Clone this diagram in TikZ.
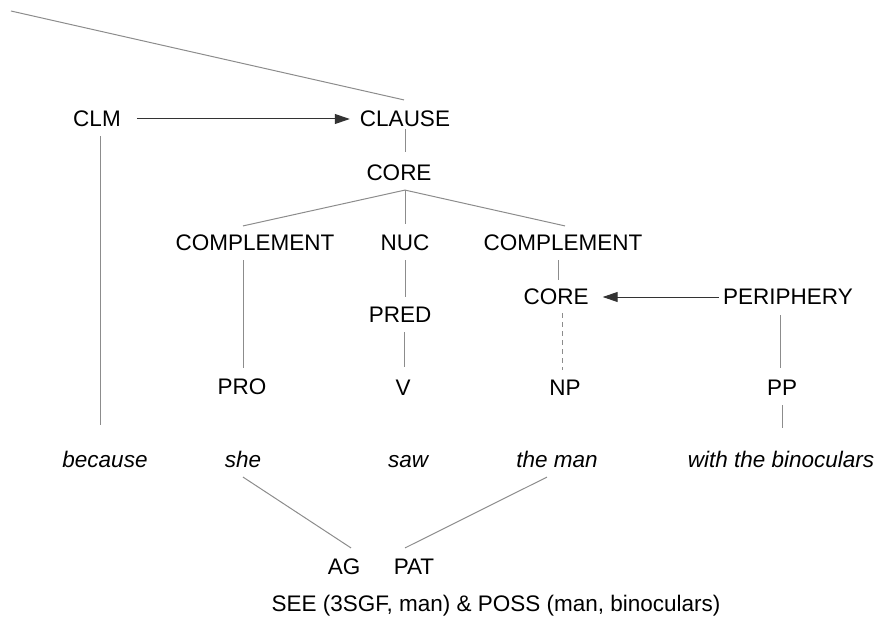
\documentclass[tikz,border=0pt]{standalone}
\usepackage{fontspec}
\setmainfont{Liberation Sans}
\usetikzlibrary{arrows.meta,calc}
\begin{document}
\begin{tikzpicture}[x=1pt,y=-1pt,
  lab/.style={font=\fontsize{22.5}{25}\selectfont, inner sep=0pt, text height=15.75pt, text depth=0pt},
  itl/.style={font=\fontsize{22.5}{25}\selectfont\itshape, inner sep=0pt, text height=15.75pt, text depth=0pt},
  ln/.style={draw=black!45, line width=1pt},
  dln/.style={draw=black!45, line width=1pt, dash pattern=on 5pt off 4pt},
  arr/.style={draw=black!80, line width=1pt, -{Triangle[length=15pt,width=10pt]}}]
\useasboundingbox (0,0) rectangle (877,617);
\node[lab] (clm) at (97,119) {CLM};
\node[lab] (clause) at (405,119) {CLAUSE};
\node[lab] (core1) at (399,173) {CORE};
\node[lab] (compL) at (255,243) {COMPLEMENT};
\node[lab] (nuc) at (405,243) {NUC};
\node[lab] (compR) at (563,243) {COMPLEMENT};
\node[lab] (core2) at (556,297) {CORE};
\node[lab] (periph) at (788,297) {PERIPHERY};
\node[lab] (pred) at (400,315) {PRED};
\node[lab] (pro) at (242,387) {PRO};
\node[lab] (v) at (403,388) {V};
\node[lab] (np) at (565,388) {NP};
\node[lab] (pp) at (782,388) {PP};
\node[itl] (because) at (105,460) {because};
\node[itl] (she) at (243,460) {she};
\node[itl] (saw) at (408,460) {saw};
\node[itl] (theman) at (557,460) {the man};
\node[itl] (withbin) at (781,460) {with the binoculars};
\node[lab] (ag) at (344,567) {AG};
\node[lab] (pat) at (414,567) {PAT};
\node[lab] (see) at (496,604) {SEE (3SGF, man) \& POSS (man, binoculars)};
\coordinate (tl) at (11,11);
\draw[ln] (tl) -- ([xshift=-1pt,yshift=11pt]clause.north);
\draw[arr] ([xshift=16pt]clm.east) -- ([xshift=-10pt]clause.west);
\draw[ln] ([yshift=-2pt]clause.south) -- ([xshift=6pt,yshift=13pt]core1.north);
\coordinate (apex) at ([xshift=6pt,yshift=-9pt]core1.south);
\draw[ln] (apex) -- ([xshift=-12pt,yshift=9pt]compL.north);
\draw[ln] (apex) -- ([yshift=11pt]nuc.north);
\draw[ln] (apex) -- ([xshift=2pt,yshift=9pt]compR.north);
\draw[ln] ([xshift=-12pt,yshift=-9pt]compL.south) -- ([xshift=1pt,yshift=11pt]pro.north);
\draw[ln] ([yshift=-9pt]nuc.south) -- ([xshift=5pt,yshift=10pt]pred.north);
\draw[ln] ([xshift=4pt,yshift=-9pt]pred.south) -- ([xshift=1pt,yshift=13pt]v.north);
\draw[ln] ([xshift=-5pt,yshift=-9pt]compR.south) -- ([xshift=2pt,yshift=9pt]core2.north);
\draw[arr] ([xshift=-4pt]periph.west) -- ([xshift=14pt]core2.east);
\draw[dln] ([xshift=6pt,yshift=-8pt]core2.south) -- ([xshift=-3pt,yshift=10pt]np.north);
\draw[ln] ([xshift=-8pt,yshift=-10pt]periph.south) -- ([xshift=-2pt,yshift=12pt]pp.north);
\draw[ln] ([yshift=-9pt]pp.south) -- ([xshift=1pt,yshift=24pt]withbin.north);
\draw[ln] ([xshift=3pt,yshift=-9pt]clm.south) -- ([xshift=-5pt,yshift=27pt]because.north);
\draw[ln] ([yshift=-9pt]she.south) -- ([xshift=7pt,yshift=11pt]ag.north);
\draw[ln] ([xshift=-10pt,yshift=-9pt]theman.south) -- ([xshift=-9pt,yshift=11pt]pat.north);
\end{tikzpicture}
\end{document}
